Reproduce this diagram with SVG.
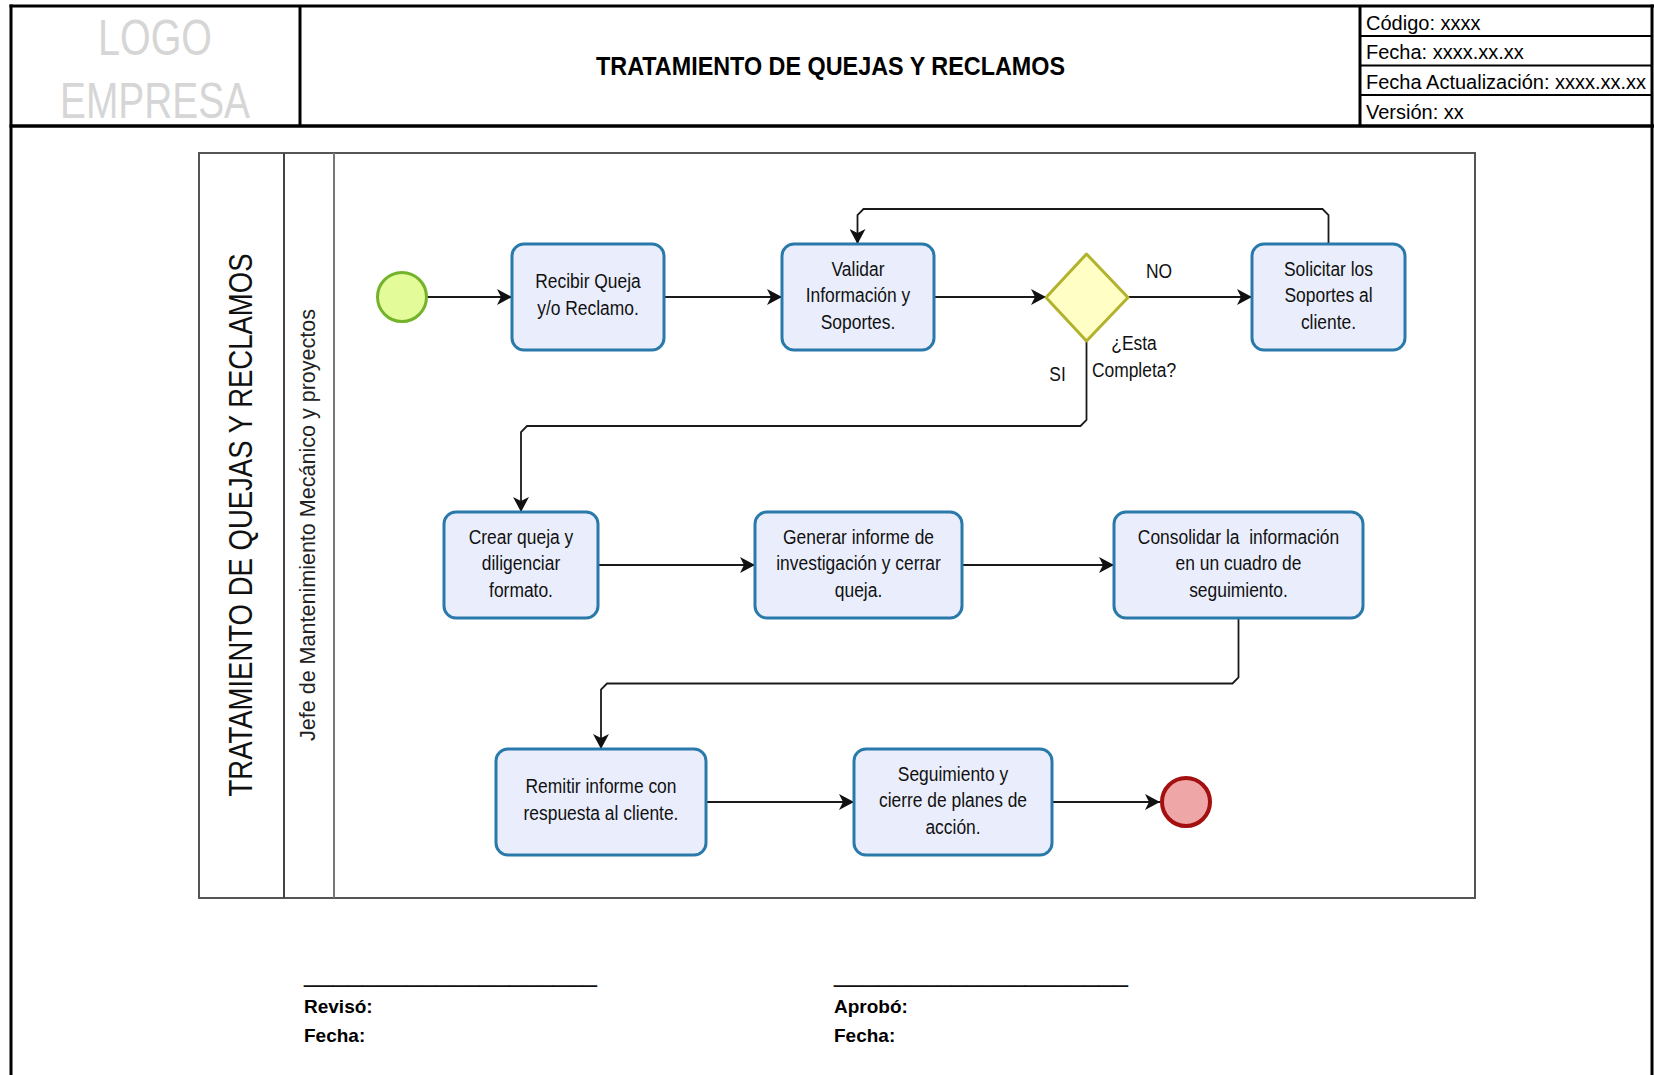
<svg xmlns="http://www.w3.org/2000/svg" width="1654" height="1075" viewBox="0 0 1654 1075">
  <style>
    .frame { fill: none; stroke: #000; }
    .logo { font-family: "Liberation Sans", Arial, sans-serif; font-size: 50px; fill: #d6d6d6; text-anchor: middle; }
    .title { font-family: "Liberation Sans", Arial, sans-serif; font-size: 26px; font-weight: bold; fill: #000; text-anchor: middle; }
    .info { font-family: "Liberation Sans", Arial, sans-serif; font-size: 20px; fill: #000; }
    .pool { fill: #fff; stroke: #555; stroke-width: 2; }
    .poolTitle { font-family: "Liberation Sans", Arial, sans-serif; font-size: 34px; fill: #111; text-anchor: middle; }
    .laneTitle { font-family: "Liberation Sans", Arial, sans-serif; font-size: 21.5px; fill: #222; text-anchor: middle; }
    .task rect { fill: #eaeefc; stroke: #2a79ab; stroke-width: 3; }
    .tt { font-family: "Liberation Sans", Arial, sans-serif; font-size: 21px; fill: #111; text-anchor: middle; white-space: pre; }
    .edge { fill: none; stroke: #1a1a1a; stroke-width: 1.8; marker-end: url(#arrow); }
    .sign { font-family: "Liberation Sans", Arial, sans-serif; font-size: 19px; font-weight: bold; fill: #000; }
    .rule { font-family: "Liberation Sans", Arial, sans-serif; font-size: 27px; fill: #111; }
  </style>
  <defs>
    <marker id="arrow" viewBox="0 0 15 16" markerWidth="15" markerHeight="16" refX="15" refY="8" orient="auto" markerUnits="userSpaceOnUse">
      <path d="M0,0 L15,8 L0,16 L4,8 Z" fill="#111"/>
    </marker>
  </defs>

  <rect width="1654" height="1075" fill="#fff"/>

  <!-- document header -->
  <g id="header">
    <line class="frame" x1="11" y1="4.5" x2="11" y2="1075" stroke-width="3"/>
    <line class="frame" x1="1652" y1="4.5" x2="1652" y2="1075" stroke-width="3"/>
    <line class="frame" x1="9.5" y1="6" x2="1654" y2="6" stroke-width="3"/>
    <line class="frame" x1="9.5" y1="126" x2="1654" y2="126" stroke-width="3.5"/>
    <line class="frame" x1="300" y1="6" x2="300" y2="126" stroke-width="3"/>
    <line class="frame" x1="1360" y1="6" x2="1360" y2="126" stroke-width="3"/>
    <line class="frame" x1="1360" y1="36" x2="1652" y2="36" stroke-width="2"/>
    <line class="frame" x1="1360" y1="65.5" x2="1652" y2="65.5" stroke-width="2"/>
    <line class="frame" x1="1360" y1="95" x2="1652" y2="95" stroke-width="2"/>
    <text class="logo" x="155" y="55" textLength="114" lengthAdjust="spacingAndGlyphs">LOGO</text>
    <text class="logo" x="155" y="118" textLength="190" lengthAdjust="spacingAndGlyphs">EMPRESA</text>
    <text class="title" x="830.5" y="74.5" textLength="469" lengthAdjust="spacingAndGlyphs">TRATAMIENTO DE QUEJAS Y RECLAMOS</text>
    <text class="info" x="1366" y="29.5">Código: xxxx</text>
    <text class="info" x="1366" y="59">Fecha: xxxx.xx.xx</text>
    <text class="info" x="1366" y="88.5">Fecha Actualización: xxxx.xx.xx</text>
    <text class="info" x="1366" y="118.5">Versión: xx</text>
  </g>

  <!-- pool and lane -->
  <g id="pool">
    <rect class="pool" x="199" y="153" width="1276" height="745"/>
    <line x1="284" y1="153" x2="284" y2="898" stroke="#444" stroke-width="2"/>
    <line x1="334" y1="153" x2="334" y2="898" stroke="#777" stroke-width="2"/>
    <text class="poolTitle" transform="translate(252,525) rotate(-90)" textLength="543" lengthAdjust="spacingAndGlyphs">TRATAMIENTO DE QUEJAS Y RECLAMOS</text>
    <text class="laneTitle" transform="translate(315,525) rotate(-90)" textLength="432" lengthAdjust="spacingAndGlyphs">Jefe de Mantenimiento Mecánico y proyectos</text>
  </g>

  <!-- connectors -->
  <g id="connectors">
    <path class="edge" d="M427,297 H512"/>
    <path class="edge" d="M664,297 H782"/>
    <path class="edge" d="M934,297 H1046"/>
    <path class="edge" d="M1128,297 H1252"/>
    <path class="edge" d="M1328.5,244 V215 L1322.5,209 H863.5 L857.5,215 V244"/>
    <path class="edge" d="M1086.5,341 V420 L1080.5,426 H527 L521,432 V512"/>
    <path class="edge" d="M598,565 H755"/>
    <path class="edge" d="M962,565 H1114"/>
    <path class="edge" d="M1238.5,618 V677.5 L1232.5,683.5 H607 L601,689.5 V749"/>
    <path class="edge" d="M706,802 H854"/>
    <path class="edge" d="M1052,802 H1160"/>
    <text class="tt" transform="translate(1159,278) scale(0.83,1)">NO</text>
    <text class="tt" transform="translate(1057.5,381) scale(0.83,1)">SI</text>
  </g>

  <!-- events -->
  <g id="start">
    <circle cx="402" cy="297" r="24.5" fill="#e3fb98" stroke="#72b32a" stroke-width="3"/>
  </g>
  <g id="end">
    <circle cx="1186" cy="802" r="24" fill="#eea6a6" stroke="#a40f0f" stroke-width="4"/>
  </g>

  <!-- gateway -->
  <g id="gateway">
    <path d="M1086.5,254 L1128,297.5 L1086.5,341 L1046,297.5 Z" fill="#fffec4" stroke="#b2b22c" stroke-width="3" stroke-linejoin="round"/>
    <text class="tt" transform="translate(1134,350) scale(0.83,1)"><tspan x="0" y="0">¿Esta</tspan><tspan x="0" y="27">Completa?</tspan></text>
  </g>

  <!-- tasks -->
  <g id="task-recibir" class="task">
    <rect x="512" y="244" width="152" height="106" rx="12"/>
    <text class="tt" transform="translate(588,297) scale(0.83,1)"><tspan x="0" y="-9">Recibir Queja</tspan><tspan x="0" y="17.7">y/o Reclamo.</tspan></text>
  </g>
  <g id="task-validar" class="task">
    <rect x="782" y="244" width="152" height="106" rx="12"/>
    <text class="tt" transform="translate(858,297) scale(0.83,1)"><tspan x="0" y="-21.5">Validar</tspan><tspan x="0" y="5.2">Información y</tspan><tspan x="0" y="31.9">Soportes.</tspan></text>
  </g>
  <g id="task-solicitar" class="task">
    <rect x="1252" y="244" width="153" height="106" rx="12"/>
    <text class="tt" transform="translate(1328.5,297) scale(0.83,1)"><tspan x="0" y="-21.5">Solicitar los</tspan><tspan x="0" y="5.2">Soportes al</tspan><tspan x="0" y="31.9">cliente.</tspan></text>
  </g>
  <g id="task-crear" class="task">
    <rect x="444" y="512" width="154" height="106" rx="12"/>
    <text class="tt" transform="translate(521,565) scale(0.83,1)"><tspan x="0" y="-21.5">Crear queja y</tspan><tspan x="0" y="5.2">diligenciar</tspan><tspan x="0" y="31.9">formato.</tspan></text>
  </g>
  <g id="task-generar" class="task">
    <rect x="755" y="512" width="207" height="106" rx="12"/>
    <text class="tt" transform="translate(858.5,565) scale(0.83,1)"><tspan x="0" y="-21.5">Generar informe de</tspan><tspan x="0" y="5.2">investigación y cerrar</tspan><tspan x="0" y="31.9">queja.</tspan></text>
  </g>
  <g id="task-consolidar" class="task">
    <rect x="1114" y="512" width="249" height="106" rx="12"/>
    <text class="tt" transform="translate(1238.5,565) scale(0.83,1)"><tspan x="0" y="-21.5">Consolidar la  información</tspan><tspan x="0" y="5.2">en un cuadro de</tspan><tspan x="0" y="31.9">seguimiento.</tspan></text>
  </g>
  <g id="task-remitir" class="task">
    <rect x="496" y="749" width="210" height="106" rx="12"/>
    <text class="tt" transform="translate(601,802) scale(0.83,1)"><tspan x="0" y="-9">Remitir informe con</tspan><tspan x="0" y="17.7">respuesta al cliente.</tspan></text>
  </g>
  <g id="task-seguimiento" class="task">
    <rect x="854" y="749" width="198" height="106" rx="12"/>
    <text class="tt" transform="translate(953,802) scale(0.83,1)"><tspan x="0" y="-21.5">Seguimiento y</tspan><tspan x="0" y="5.2">cierre de planes de</tspan><tspan x="0" y="31.9">acción.</tspan></text>
  </g>

  <!-- signatures -->
  <g id="signatures">
    <text class="rule" x="304" y="981" textLength="293" lengthAdjust="spacingAndGlyphs">____________________</text>
    <text class="rule" x="834" y="981" textLength="294" lengthAdjust="spacingAndGlyphs">____________________</text>
    <text class="sign" x="304" y="1013">Revisó:</text>
    <text class="sign" x="304" y="1042">Fecha:</text>
    <text class="sign" x="834" y="1013">Aprobó:</text>
    <text class="sign" x="834" y="1042">Fecha:</text>
  </g>
</svg>
